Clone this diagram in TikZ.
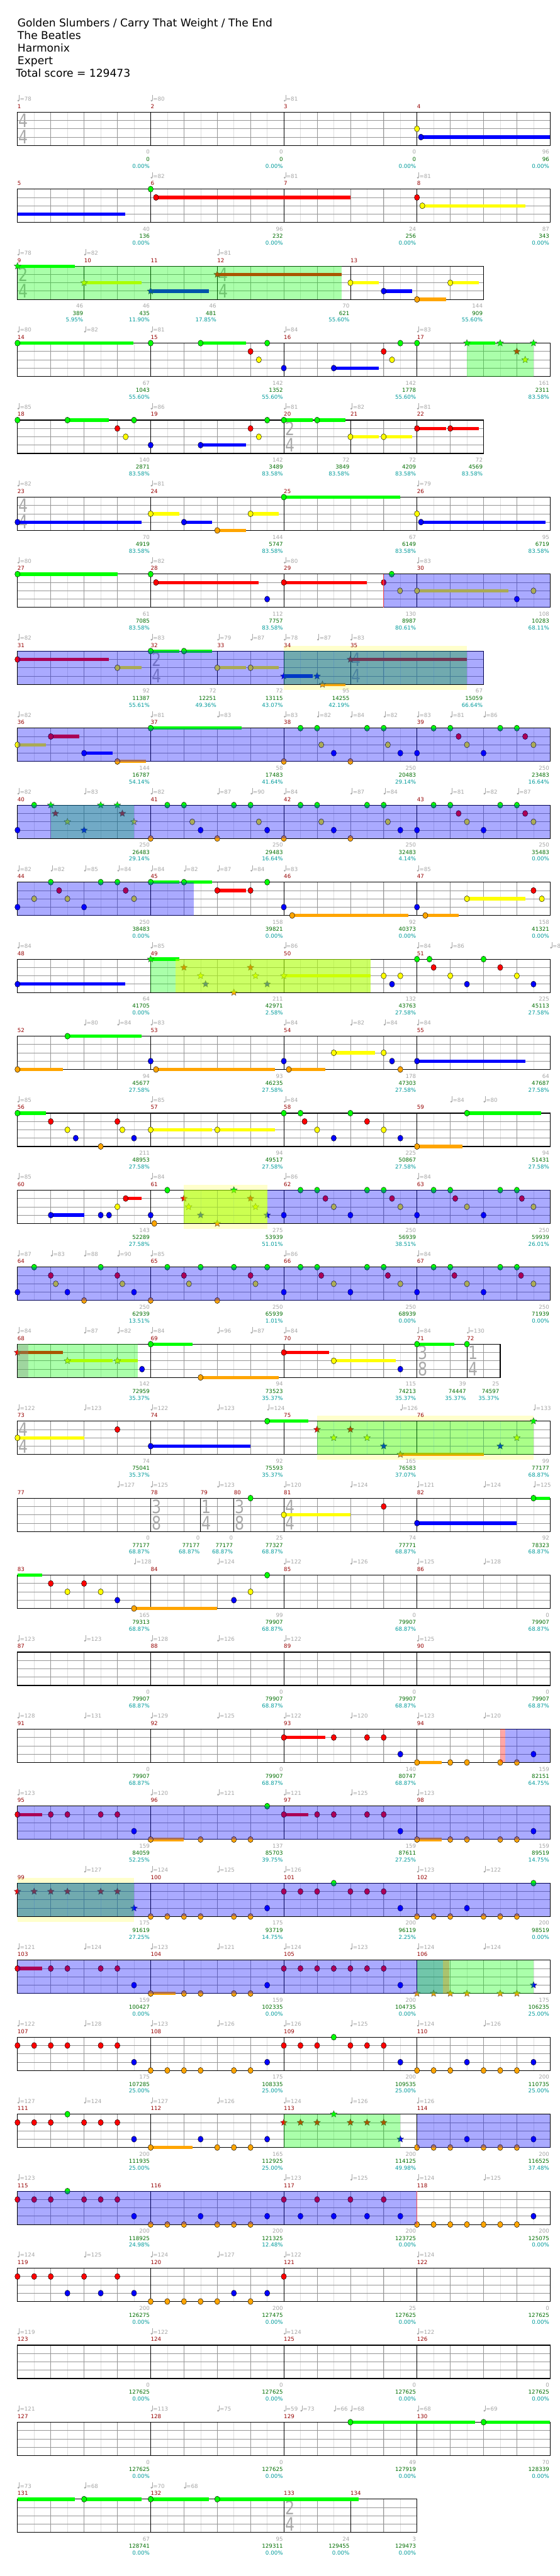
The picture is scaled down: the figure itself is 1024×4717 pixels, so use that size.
\documentclass[tikz,border=0pt]{standalone}
\usepackage{fontspec}
\setmainfont{DejaVu Sans}
\usetikzlibrary{shapes.geometric}

\definecolor{ln0}{RGB}{0,255,0}
\definecolor{ln1}{RGB}{255,0,0}
\definecolor{ln2}{RGB}{255,255,0}
\definecolor{ln3}{RGB}{0,0,255}
\definecolor{ln4}{RGB}{255,165,0}
\definecolor{halfcol}{RGB}{222,222,222}
\definecolor{gridcol}{RGB}{150,150,150}
\definecolor{mnumcol}{RGB}{150,0,0}
\definecolor{tempocol}{RGB}{165,165,165}
\definecolor{scorecol}{RGB}{0,110,0}
\definecolor{pctcol}{RGB}{0,155,155}
\definecolor{tsigcol}{RGB}{170,170,170}
\definecolor{palecol}{RGB}{255,255,204}
\definecolor{limecol}{RGB}{170,255,0}

\newcommand{\smallfont}{\fontsize{10}{10}\selectfont}

% one staff: #1 beats, #2 bar lines
\newcommand{\staff}[2]{%
  \pgfmathtruncatemacro\nhalf{2*#1-1}%
  \pgfmathtruncatemacro\nbeat{ceil(#1)-1}%
  \foreach \xi in {1,...,\nhalf} \draw[halfline] (\xi/2,0) -- (\xi/2,4);
  \foreach \xi in {1,...,\nbeat} \draw[beatline] (\xi,0) -- (\xi,4);
  \foreach \xl in {1,2,3} \draw[laneline] (0,\xl) -- (#1,\xl);
  \foreach \xm in {#2} \draw[barline] (\xm,0) -- (\xm,4);
  \draw[border] (0,0) rectangle (#1,4);}
\newcommand{\tsig}[3]{\node[tsignum] at (#1,1) {\scalebox{0.8}[1]{#2}};
  \node[tsignum] at (#1,3) {\scalebox{0.8}[1]{#3}};}
% notes: lane, beats
\newcommand{\nts}[2]{\foreach \bt in {#2}{\node[gem,fill=ln#1] at (\bt,#1) {};}}
\newcommand{\sts}[2]{\foreach \bt in {#2}{\node[spgem,fill=ln#1] at (\bt,#1) {};}}
\newcommand{\sustain}[3]{\fill[ln#1] (#2,#1-0.2) rectangle (#3,#1+0.2);}
\newcommand{\hold}[3]{\sustain{#1}{#2}{#3}\nts{#1}{#2}}
\newcommand{\shold}[3]{\sustain{#1}{#2}{#3}\sts{#1}{#2}}
% zones
\newcommand{\spzone}[2]{\fill[spfill] (#1,0) rectangle (#2,4);}
\newcommand{\odzone}[2]{\fill[odfill] (#1,0) rectangle (#2,4);}
\newcommand{\limezone}[2]{\fill[limefill] (#1,0) rectangle (#2,4);}
\newcommand{\redmark}[2]{\fill[markfill] (#1,0) rectangle (#2,4);}
\newcommand{\pale}[2]{\fill[palecol] (#1,-0.66) rectangle (#2,4.66);}
% labels
\newcommand{\mnums}[1]{\foreach \xn/\bt in {#1}{\node[mnum] at (\bt,0) {\xn};}}
\newcommand{\tempos}[1]{\foreach \bt/\xv in {#1}{%
  \begin{scope}[shift={(\bt,0)}]
    \fill[tempocol] (1.6pt,21pt) circle (1.7pt);
    \draw[tempocol, line width=0.5pt] (3.1pt,21pt) -- (3.1pt,31pt);
    \node[tempo] at (4.3pt,20.3pt) {=\xv};
  \end{scope}}}
\newcommand{\mends}[1]{\foreach \bt/\xg/\xs/\xp in {#1}{%
  \node[hitnum] at (\bt,4) {\xg};
  \node[scorenum] at (\bt,4) {\xs};
  \node[pctnum] at (\bt,4) {\xp\%};}}

\begin{document}
\begin{tikzpicture}[
    x=60.93pt, y=-15.25pt,
    chartrow/.style={shift={(32pt,{-205.3pt-141pt*#1})}},
    header/.style={anchor=base west, inner sep=0, font=\fontsize{19.7}{20}\selectfont},
    halfline/.style={draw=halfcol, line width=0.6pt},
    beatline/.style={draw=gridcol, line width=0.7pt},
    laneline/.style={draw=gridcol, line width=0.9pt},
    barline/.style={draw=black, line width=0.7pt},
    border/.style={draw=black, line width=1.3pt},
    tsignum/.style={inner sep=0, xshift=11pt, text=tsigcol, font=\fontsize{34}{34}\selectfont},
    gem/.style={ellipse, draw=black, line width=0.5pt, minimum width=9.5pt,
      minimum height=11pt, inner sep=0},
    spgem/.style={star, star points=5, star point ratio=2.2, draw=black!75,
      line width=0.4pt, minimum size=13pt, inner sep=0},
    spfill/.style={fill=ln0, fill opacity=0.333},
    odfill/.style={fill=ln3, fill opacity=0.333},
    limefill/.style={fill=limecol, fill opacity=0.6},
    markfill/.style={fill=ln1, fill opacity=0.35},
    mnum/.style={anchor=base west, inner sep=0, yshift=7pt, text=mnumcol, font=\smallfont},
    tempo/.style={anchor=base west, inner sep=0, text=tempocol, font=\smallfont},
    hitnum/.style={anchor=base east, inner sep=0, xshift=-1.5pt, yshift=-15.7pt,
      text=tempocol, font=\smallfont},
    scorenum/.style={hitnum, yshift=-13pt, text=scorecol},
    pctnum/.style={hitnum, yshift=-25.5pt, text=pctcol}
  ]
  \fill[white] (0pt,0pt) rectangle (1024pt,-4717pt);
  \useasboundingbox (0pt,0pt) rectangle (1024pt,-4717pt);

  \node[header] (songtitle) at (32pt,-49.3pt) {Golden Slumbers / Carry That Weight / The End};
  \node[header] (artist) at (32pt,-72.3pt) {The Beatles};
  \node[header] (charter) at (32pt,-95.3pt) {Harmonix};
  \node[header] (difficulty) at (32pt,-118.3pt) {Expert};
  \node[header] (totalscore) at (29pt,-141.3pt) {Total score = 129473};

  % measures 1-4
  \begin{scope}[chartrow=0]
    \staff{16}{4,8,12} \tsig{0}{4}{4}
    \nts{2}{12} \hold{3}{12.12}{16}
    \mnums{1/0,2/4,3/8,4/12} \tempos{0/78,4/80,8/81}
    \mends{4/0/0/0.00,8/0/0/0.00,12/0/0/0.00,16/96/96/0.00}
  \end{scope}
  % measures 5-8
  \begin{scope}[chartrow=1]
    \staff{16}{4,8,12}
    \sustain{3}{0}{3.24} \nts{0}{4} \hold{1}{4.16}{10} \nts{1}{12} \hold{2}{12.16}{15.25}
    \mnums{5/0,6/4,7/8,8/12} \tempos{4/82,8/81,12/81}
    \mends{4/40/136/0.00,8/96/232/0.00,12/24/256/0.00,16/87/343/0.00}
  \end{scope}
  % measures 9-13
  \begin{scope}[chartrow=2]
    \staff{14}{2,4,6,10} \tsig{0}{2}{4} \tsig{6}{4}{4}
    \shold{0}{0}{1.73} \shold{2}{2}{3.73} \shold{3}{4}{5.75} \shold{1}{6}{9.74}
    \hold{2}{10}{10.86} \hold{3}{11}{11.86} \hold{4}{12}{12.87} \hold{2}{13}{13.86}
    \spzone{0}{9.74}
    \mnums{9/0,10/2,11/4,12/6,13/10} \tempos{0/78,2/82,6/81}
    \mends{2/46/389/5.95,4/46/435/11.90,6/46/481/17.85,10/70/621/55.60,14/144/909/55.60}
  \end{scope}
  % measures 14-17
  \begin{scope}[chartrow=3]
    \staff{16}{4,8,12}
    \hold{0}{0}{3.49} \hold{0}{5.5}{6.86} \nts{0}{4,7.5,11.5,12} \nts{1}{7,11}
    \nts{2}{7.25,11.25} \nts{3}{8} \hold{3}{9.5}{10.86}
    \shold{0}{13.5}{14.35} \sts{0}{14.5,15.5} \sts{1}{15} \sts{2}{15.25}
    \spzone{13.5}{15.5}
    \mnums{14/0,15/4,16/8,17/12} \tempos{0/80,2/82,4/81,8/84,12/83}
    \mends{4/67/1043/55.60,8/142/1352/55.60,12/142/1778/55.60,16/161/2311/83.58}
  \end{scope}
  % measures 18-22
  \begin{scope}[chartrow=4]
    \staff{14}{4,8,10,12} \tsig{8}{2}{4}
    \nts{0}{0,3.5,7.5} \hold{0}{1.5}{2.74} \nts{1}{3,7} \nts{2}{3.25,7.25} \nts{3}{4}
    \hold{3}{5.5}{6.86} \hold{0}{8}{8.86} \hold{0}{9}{9.86} \hold{2}{10}{10.86}
    \hold{2}{11}{11.86} \hold{1}{12}{12.87} \hold{1}{13}{13.86}
    \mnums{18/0,19/4,20/8,21/10,22/12} \tempos{0/85,4/86,8/81,10/82,12/81}
    \mends{4/140/2871/83.58,8/142/3489/83.58,10/72/3849/83.58,12/72/4209/83.58,14/72/4569/83.58}
  \end{scope}
  % measures 23-26
  \begin{scope}[chartrow=5]
    \staff{16}{4,8,12} \tsig{0}{4}{4}
    \hold{3}{0}{3.73} \hold{2}{4}{4.87} \hold{3}{5}{5.85} \hold{4}{6}{6.86}
    \hold{2}{7}{7.85} \hold{0}{8}{11.49} \nts{2}{12} \hold{3}{12.12}{15.86}
    \mnums{23/0,24/4,25/8,26/12} \tempos{0/82,4/81,12/79}
    \mends{4/70/4919/83.58,8/144/5747/83.58,12/67/6149/83.58,16/95/6719/83.58}
  \end{scope}
  % measures 27-30
  \begin{scope}[chartrow=6]
    \staff{16}{4,8,12}
    \hold{0}{0}{3} \nts{0}{4,11.24} \hold{1}{4.16}{7.25} \nts{3}{7.5,15}
    \hold{1}{8}{10.49} \nts{1}{11} \nts{2}{11.49,15.5} \hold{2}{12}{14.75}
    \odzone{11}{16} \draw[red!70, line width=0.8pt] (11,0) -- (11,4);
    \mnums{27/0,28/4,29/8,30/12} \tempos{0/80,4/82,8/80,12/83}
    \mends{4/61/7085/83.58,8/112/7757/83.58,12/130/8987/80.61,16/108/10283/68.11}
  \end{scope}
  % measures 31-35
  \begin{scope}[chartrow=7]
    \pale{8}{13.5}
    \staff{14}{4,6,8,10} \tsig{4}{2}{4} \tsig{10}{4}{4}
    \hold{1}{0}{2.74} \hold{2}{3}{3.73} \hold{0}{4}{4.87} \hold{0}{5}{5.85}
    \hold{2}{6}{6.86} \hold{2}{7}{7.85} \shold{3}{8}{8.86} \sts{3}{9}
    \shold{4}{9.16}{9.86} \shold{1}{10}{13.5}
    \spzone{8}{13.5} \odzone{0}{14}
    \mnums{31/0,32/4,33/6,34/8,35/10} \tempos{0/82,4/83,6/79,7/87,8/78,9/87,10/83}
    \mends{4/92/11387/55.61,6/72/12251/49.36,8/72/13115/43.07,10/95/14255/42.19,14/67/15059/66.64}
  \end{scope}
  % measures 36-39
  \begin{scope}[chartrow=8]
    \staff{16}{4,8,12}
    \hold{2}{0}{0.86} \hold{1}{1}{1.85} \hold{3}{2}{2.86} \hold{4}{3}{3.86} \hold{0}{4}{6.74}
    \nts{0}{8.5,9,10.5,11,12.5,13,14.5,15} \nts{1}{13.25,15.25}
    \nts{2}{9.125,11.125,13.5,15.5} \nts{3}{9.5,11.5,12,14} \nts{4}{8,10}
    \odzone{0}{16}
    \mnums{36/0,37/4,38/8,39/12} \tempos{0/82,4/81,6/83,8/83,9/82,10/84,11/82,12/83,13/81,14/86}
    \mends{4/144/16787/54.14,8/58/17483/41.64,12/250/20483/29.14,16/250/23483/16.64}
  \end{scope}
  % measures 40-43
  \begin{scope}[chartrow=9]
    \staff{16}{4,8,12}
    \nts{3}{0} \nts{0}{0.5} \sts{0}{1,2.5,3} \sts{1}{1.14,3.15} \sts{2}{1.5,3.5} \sts{3}{2}
    \nts{4}{4,6,8,10} \nts{0}{4.5,5,6.5,7,8.5,9,10.5,11,12.5,13,14.5,15}
    \nts{2}{5.25,7.25,9.125,11.125,13.5,15.5} \nts{3}{5.5,7.5,9.5,11.5,12,14}
    \nts{1}{13.25,15.25}
    \spzone{1}{3.5} \odzone{0}{16}
    \mnums{40/0,41/4,42/8,43/12} \tempos{0/82,2/83,4/82,6/87,7/90,8/84,10/87,11/84,13/81,14/82,15/87}
    \mends{4/250/26483/29.14,8/250/29483/16.64,12/250/32483/4.14,16/250/35483/0.00}
  \end{scope}
  % measures 44-47
  \begin{scope}[chartrow=10]
    \staff{16}{4,8,12}
    \nts{3}{0,2,8,12} \nts{2}{0.5,1.5,3.5,15.75} \nts{0}{1,2.5,3,7.5} \nts{1}{1.25,3.25,7,15.5}
    \hold{0}{4}{4.87} \hold{0}{5}{5.85} \hold{1}{6}{6.86} \hold{4}{8.25}{11.74}
    \hold{4}{12.25}{13.25} \hold{2}{13.5}{15.25}
    \odzone{0}{5.3}
    \mnums{44/0,45/4,46/8,47/12} \tempos{0/82,1/82,2/85,3/84,4/84,5/82,6/87,7/84,8/83,12/85}
    \mends{4/250/38483/0.00,8/158/39821/0.00,12/92/40373/0.00,16/158/41321/0.00}
  \end{scope}
  % measures 48-51
  \begin{scope}[chartrow=11]
    \staff{16}{4,8,12}
    \hold{3}{0}{3.24} \shold{0}{4}{4.87} \sts{1}{5,7} \sts{2}{5.5,7.15} \sts{3}{5.65,7.5}
    \sts{4}{6.5} \shold{2}{8}{10.6}
    \nts{0}{12,12.375,14} \nts{1}{12.5,14.5} \nts{2}{11,11.5,13,15} \nts{3}{11.25,13.5,15.5}
    \spzone{4}{4.75} \limezone{4.75}{10.6}
    \mnums{48/0,49/4,50/8,51/12} \tempos{0/84,4/85,8/86,12/84,13/86,16/83}
    \mends{4/64/41705/0.00,8/211/42971/2.58,12/132/43763/27.58,16/225/45113/27.58}
  \end{scope}
  % measures 52-55
  \begin{scope}[chartrow=12]
    \staff{16}{4,8,12}
    \hold{4}{0}{1.36} \hold{0}{1.5}{3.73} \nts{3}{4,8,11.25} \hold{4}{4.16}{7.73}
    \hold{4}{8.15}{9.24} \hold{2}{9.5}{10.74} \nts{2}{11} \nts{4}{11.5} \hold{3}{12}{15.25}
    \mnums{52/0,53/4,54/8,55/12} \tempos{2/80,3/84,4/83,8/84,10/82,11/84,12/84}
    \mends{4/94/45677/27.58,8/93/46235/27.58,12/178/47303/27.58,16/64/47687/27.58}
  \end{scope}
  % measures 56-59
  \begin{scope}[chartrow=13]
    \staff{16}{4,8,12}
    \hold{0}{0}{0.86} \nts{1}{1,3,8.625,10.5} \nts{2}{1.5,3.15,9,11} \nts{3}{1.75,3.5,9.5,11.5}
    \nts{4}{2.5} \hold{2}{4}{5.85} \hold{2}{6}{7.73} \nts{0}{8,8.5,10}
    \hold{4}{12}{13.37} \hold{0}{13.5}{15.73}
    \mnums{56/0,57/4,58/8,59/12} \tempos{0/85,4/85,8/84,13/84,14/80}
    \mends{4/211/48953/27.58,8/94/49517/27.58,12/225/50867/27.58,16/94/51431/27.58}
  \end{scope}
  % measures 60-63
  \begin{scope}[chartrow=14]
    \pale{5}{7.5}
    \staff{16}{4,8,12}
    \hold{3}{1}{2} \nts{3}{2.5,2.75,4,8,10,12,14} \nts{2}{3,9.5,11.5,13.5,15.5}
    \hold{1}{3.25}{3.73} \nts{4}{4.11} \nts{0}{4.5,8.5,9,10.5,11,12.5,13,14.5,15}
    \sts{1}{5,7} \sts{2}{5.14,7.15} \sts{3}{5.5,7.5} \sts{4}{6} \sts{0}{6.5}
    \nts{1}{9.25,11.25,13.15,15.15}
    \limezone{5}{7.5} \odzone{7.5}{16}
    \mnums{60/0,61/4,62/8,63/12} \tempos{0/85,4/84,8/86,12/84}
    \mends{4/143/52289/27.58,8/275/53939/51.01,12/250/56939/38.51,16/250/59939/26.01}
  \end{scope}
  % measures 64-67
  \begin{scope}[chartrow=15]
    \staff{16}{4,8,12}
    \nts{3}{0,1.5,3.5,8,10,12,14}
    \nts{0}{0.5,2.5,4.5,5.5,6.5,7.5,8.5,9,10.5,11,12.5,13,14.5,15}
    \nts{1}{1,3,5,7,9.125,11.125,13.125,15.125}
    \nts{2}{1.15,3.15,5.15,7.15,9.5,11.5,13.5,15.5} \nts{4}{2,4,6}
    \odzone{0}{16}
    \mnums{64/0,65/4,66/8,67/12} \tempos{0/87,1/83,2/88,3/90,4/85,8/86,12/84}
    \mends{4/250/62939/13.51,8/250/65939/1.01,12/250/68939/0.00,16/250/71939/0.00}
  \end{scope}
  % measures 68-72
  \begin{scope}[chartrow=16]
    \staff{14.5}{4,8,12,13.5} \tsig{12}{3}{8} \tsig{13.5}{1}{4}
    \shold{1}{0}{1.36} \shold{2}{1.5}{2.86} \shold{2}{3}{3.61} \nts{3}{3.74,11.5}
    \hold{0}{4}{5.25} \hold{4}{5.5}{7.85} \hold{1}{8}{9.36} \hold{2}{9.5}{11.36}
    \hold{0}{12}{13.12} \nts{0}{13.5}
    \spzone{0}{3.61} \fill[black!45, fill opacity=0.35] (0,0) rectangle (0.32,4);
    \mnums{68/0,69/4,70/8,71/12,72/13.5} \tempos{0/84,2/87,3/82,4/84,6/96,7/87,8/84,12/84,13.5/130}
    \mends{4/142/72959/35.37,8/94/73523/35.37,12/115/74213/35.37,13.5/39/74447/35.37,14.5/25/74597/35.37}
  \end{scope}
  % measures 73-76
  \begin{scope}[chartrow=17]
    \pale{9}{15.5}
    \staff{16}{4,8,12} \tsig{0}{4}{4}
    \hold{2}{0}{2} \nts{1}{3} \hold{3}{4}{7} \hold{0}{7.5}{8.74}
    \sts{1}{9,10} \sts{2}{9.5,10.5,15} \sts{3}{11,14.5} \shold{4}{11.5}{14} \sts{0}{15.5}
    \spzone{9}{15.5}
    \mnums{73/0,74/4,75/8,76/12} \tempos{0/122,2/123,4/122,6/123,7.5/124,11.5/126,15.5/133}
    \mends{4/74/75041/35.37,8/92/75593/35.37,12/165/76583/37.07,16/99/77177/68.87}
  \end{scope}
  % measures 77-82
  \begin{scope}[chartrow=18]
    \staff{16}{4,5.5,6.5,8,12} \tsig{4}{3}{8} \tsig{5.5}{1}{4} \tsig{6.5}{3}{8} \tsig{8}{4}{4}
    \nts{0}{7} \hold{2}{8}{10} \nts{1}{11} \hold{3}{12}{15} \hold{0}{15.5}{16}
    \mnums{77/0,78/4,79/5.5,80/6.5,81/8,82/12}
    \tempos{3/127,4/125,6/123,8/120,10/124,12/121,14/124,15.5/125}
    \mends{4/0/77177/68.87,5.5/0/77177/68.87,6.5/0/77177/68.87,8/25/77327/68.87,12/74/77771/68.87,16/92/78323/68.87}
  \end{scope}
  % measures 83-86
  \begin{scope}[chartrow=19]
    \staff{16}{4,8,12}
    \sustain{0}{0}{0.74} \nts{1}{1,2} \nts{2}{1.5,2.5,7} \nts{3}{3,6.5} \hold{4}{3.5}{6} \nts{0}{7.5}
    \mnums{83/0,84/4,85/8,86/12} \tempos{3.5/128,6/124,8/122,10/126,12/125,14/128}
    \mends{4/165/79313/68.87,8/99/79907/68.87,12/0/79907/68.87,16/0/79907/68.87}
  \end{scope}
  % measures 87-90
  \begin{scope}[chartrow=20]
    \staff{16}{4,8,12}
    \mnums{87/0,88/4,89/8,90/12} \tempos{0/123,2/123,4/128,6/126,8/122,12/125}
    \mends{4/0/79907/68.87,8/0/79907/68.87,12/0/79907/68.87,16/0/79907/68.87}
  \end{scope}
  % measures 91-94
  \begin{scope}[chartrow=21]
    \staff{16}{4,8,12}
    \hold{1}{8}{9.24} \nts{1}{9.5,10.5,11} \nts{3}{11.5,15.5} \hold{4}{12}{12.75}
    \nts{4}{13,13.5,14.5,15}
    \redmark{14.5}{14.66} \odzone{14.66}{16}
    \mnums{91/0,92/4,93/8,94/12} \tempos{0/128,2/131,4/129,6/125,8/122,10/120,12/123,14/120}
    \mends{4/0/79907/68.87,8/0/79907/68.87,12/140/80747/68.87,16/159/82151/64.75}
  \end{scope}
  % measures 95-98
  \begin{scope}[chartrow=22]
    \staff{16}{4,8,12}
    \hold{1}{0}{0.74} \nts{1}{1,1.5,2.5,3,9,9.5,10.5,11} \nts{3}{3.5,11.5,15.5}
    \hold{4}{4}{5} \nts{4}{5.5,6.5,7,13,13.5,14.5,15} \nts{0}{7.5}
    \hold{1}{8}{8.74} \hold{4}{12}{12.75}
    \odzone{0}{16}
    \mnums{95/0,96/4,97/8,98/12} \tempos{0/123,4/120,6/121,8/121,10/125,12/123}
    \mends{4/159/84059/52.25,8/137/85703/39.75,12/159/87611/27.25,16/159/89519/14.75}
  \end{scope}
  % measures 99-102
  \begin{scope}[chartrow=23]
    \pale{0}{3.5}
    \staff{16}{4,8,12}
    \sts{1}{0,0.5,1,1.5,2.5,3} \sts{3}{3.5}
    \nts{4}{4,4.5,5,5.5,6.5,7,12,12.5,13,14,14.5,15} \nts{3}{7.5,11.5,13.5}
    \nts{1}{8,8.5,9,10,10.5,11} \nts{0}{9.5,15.5}
    \spzone{0}{3.5} \odzone{0}{16}
    \mnums{99/0,100/4,101/8,102/12} \tempos{2/127,4/124,6/125,8/126,12/123,14/122}
    \mends{4/175/91619/27.25,8/175/93719/14.75,12/200/96119/2.25,16/200/98519/0.00}
  \end{scope}
  % measures 103-106
  \begin{scope}[chartrow=24]
    \staff{16}{4,8,12}
    \hold{1}{0}{0.74} \nts{1}{1,1.5,2.5,3,8,8.5,9,9.5,10,10.5,11} \nts{3}{3.5,7.5,11.5}
    \hold{4}{4}{4.74} \nts{4}{5,5.5,6.5,7}
    \sts{4}{12,12.5,13,13.5,14.5,15} \sts{3}{15.5}
    \odzone{0}{12.79} \redmark{12.79}{12.97} \spzone{12}{15.5}
    \mnums{103/0,104/4,105/8,106/12} \tempos{0/121,2/124,4/123,6/121,8/124,10/123,12/124,14/124}
    \mends{4/159/100427/0.00,8/159/102335/0.00,12/200/104735/0.00,16/175/106235/25.00}
  \end{scope}
  % measures 107-110
  \begin{scope}[chartrow=25]
    \staff{16}{4,8,12}
    \nts{1}{0,0.5,1,1.5,2.5,3,8,8.5,9,10,10.5,11} \nts{3}{3.5,7.5,11.5,13.5,15.5}
    \nts{4}{4,4.5,5,5.5,6.5,7,12,12.5,13,14,14.5,15} \nts{0}{9.5}
    \mnums{107/0,108/4,109/8,110/12} \tempos{0/122,2/128,4/123,6/126,8/126,10/125,12/124,14/126}
    \mends{4/175/107285/25.00,8/175/108335/25.00,12/200/109535/25.00,16/200/110735/25.00}
  \end{scope}
  % measures 111-114
  \begin{scope}[chartrow=26]
    \staff{16}{4,8,12}
    \nts{1}{0,0.5,1,2,2.5,3} \nts{0}{1.5} \nts{3}{3.5,5.5,7.5,13.5,15.5} \hold{4}{4}{5.25}
    \nts{4}{6,6.5,7,12,12.5,13,14,14.5,15}
    \sts{1}{8,8.5,9,10,10.5,11} \sts{0}{9.5} \sts{3}{11.5}
    \spzone{8}{11.5} \odzone{12}{16}
    \mnums{111/0,112/4,113/8,114/12} \tempos{0/127,2/124,4/127,6/126,8/124,10/126,12/126}
    \mends{4/200/111935/25.00,8/165/112925/25.00,12/200/114125/49.98,16/200/116525/37.48}
  \end{scope}
  % measures 115-118
  \begin{scope}[chartrow=27]
    \staff{16}{4,8,12}
    \nts{1}{0,0.5,1,2,2.5,3,8,9,10,11} \nts{0}{1.5}
    \nts{3}{3.5,5.5,7.5,8.5,9.5,10.5,11.5,15.5}
    \nts{4}{4,4.5,5,6,6.5,7,12,12.5,13,13.5,14,14.5,15}
    \odzone{0}{12} \draw[red!70, line width=0.8pt] (12,0) -- (12,4);
    \mnums{115/0,116/4,117/8,118/12} \tempos{0/123,8/123,10/125,12/124,14/125}
    \mends{4/200/118925/24.98,8/200/121325/12.48,12/200/123725/0.00,16/200/125075/0.00}
  \end{scope}
  % measures 119-122
  \begin{scope}[chartrow=28]
    \staff{16}{4,8,12}
    \nts{1}{0,0.5,1,2,3,8} \nts{3}{1.5,2.5,3.5,6.5,7.5} \nts{4}{4,4.5,5,5.5,6,7}
    \mnums{119/0,120/4,121/8,122/12} \tempos{0/124,2/125,4/124,6/127,8/122,12/124}
    \mends{4/200/126275/0.00,8/200/127475/0.00,12/25/127625/0.00,16/0/127625/0.00}
  \end{scope}
  % measures 123-126
  \begin{scope}[chartrow=29]
    \staff{16}{4,8,12}
    \mnums{123/0,124/4,125/8,126/12} \tempos{0/119,4/122,8/124,12/122}
    \mends{4/0/127625/0.00,8/0/127625/0.00,12/0/127625/0.00,16/0/127625/0.00}
  \end{scope}
  % measures 127-130
  \begin{scope}[chartrow=30]
    \staff{16}{4,8,12}
    \hold{0}{10}{13.75} \hold{0}{14}{16}
    \mnums{127/0,128/4,129/8,130/12}
    \tempos{0/121,4/113,6/75,8/59,8.5/73,9.5/66,10/68,12/68,14/69}
    \mends{4/0/127625/0.00,8/0/127625/0.00,12/49/127919/0.00,16/70/128339/0.00}
  \end{scope}
  % measures 131-134
  \begin{scope}[chartrow=31]
    \staff{12}{4,8,10} \tsig{8}{2}{4}
    \sustain{0}{0}{1.73} \hold{0}{2}{3.73} \hold{0}{4}{5.75} \hold{0}{6}{10.24}
    \mnums{131/0,132/4,133/8,134/10} \tempos{0/73,2/68,4/70,5/68}
    \mends{4/67/128741/0.00,8/95/129311/0.00,10/24/129455/0.00,12/3/129473/0.00}
  \end{scope}
\end{tikzpicture}
\end{document}
